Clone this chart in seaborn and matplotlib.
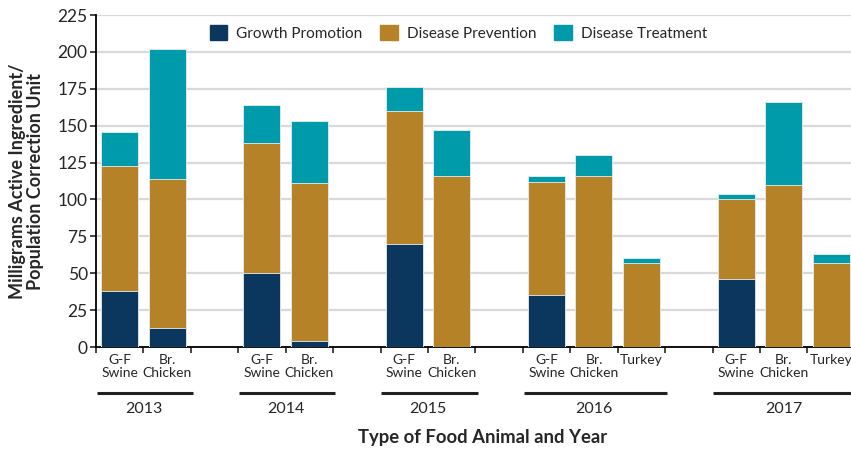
import numpy as np
import pandas as pd
import matplotlib
matplotlib.use("Agg")
import matplotlib.pyplot as plt
import seaborn as sns

# values (mg active ingredient / PCU)
slot_year = ["2013", "2013", "2014", "2014", "2015", "2015",
             "2016", "2016", "2016", "2017", "2017", "2017"]
slot_animal = ["G-F\nSwine", "Br.\nChicken", "G-F\nSwine", "Br.\nChicken",
               "G-F\nSwine", "Br.\nChicken", "G-F\nSwine", "Br.\nChicken", "Turkey",
               "G-F\nSwine", "Br.\nChicken", "Turkey"]
growth = [38, 13, 50, 4, 70, 0, 35, 0, 0, 46, 0, 0]
prevention = [85, 101, 88, 107, 90, 116, 77, 116, 57, 54, 110, 57]
treatment = [23, 88, 26, 42, 16, 31, 4, 14, 3, 4, 56, 6]

series = ["Growth Promotion", "Disease Prevention", "Disease Treatment"]
colors = ["#0b365e", "#b58228", "#009bab"]

df = pd.DataFrame({"year": slot_year, "animal": slot_animal,
                   "growth": growth, "prevention": prevention, "treatment": treatment})
df["slot"] = df["year"] + " " + df["animal"]
df["top_growth"] = df["growth"]
df["top_prev"] = df["growth"] + df["prevention"]
df["top_treat"] = df["top_prev"] + df["treatment"]

# slot order with an empty slot between years
order = []
years = list(dict.fromkeys(slot_year))
for i, y in enumerate(years):
    order += list(df.loc[df["year"] == y, "slot"])
    if i < len(years) - 1:
        order.append("gap " + y)

sns.set_style("white")
plt.rcParams["font.family"] = ["Lato", "DejaVu Sans"]

fig = plt.figure(figsize=(8.51, 4.49), dpi=100)
ax = fig.add_axes([96 / 851, 1 - 347 / 449, 1 - 96 / 851, (347 - 15) / 449])

for col, c in zip(["top_treat", "top_prev", "top_growth"], colors[::-1]):
    sns.barplot(data=df, x="slot", y=col, order=order, color=c, width=0.78,
                edgecolor="#e8eef2", linewidth=0.6, saturation=1, ax=ax, zorder=3)

ax.set_ylim(0, 225)
ax.set_xlim(-0.5, 15.42)
ax.set_yticks(np.arange(0, 226, 25))
ax.tick_params(axis="y", labelsize=12.5, length=4, width=1.2, direction="out", pad=2, left=True)
ax.set_xticks(np.arange(-0.5, 15.5, 1))
ax.set_xticklabels([])
ax.tick_params(axis="x", length=4, width=1.2, direction="out", bottom=True)
ax.yaxis.grid(True, color="#d9d9d9", linewidth=1.6, zorder=0)
ax.set_axisbelow(True)
for s in ["top", "right"]:
    ax.spines[s].set_visible(False)
for s in ["left", "bottom"]:
    ax.spines[s].set_color("black")
    ax.spines[s].set_linewidth(1.3)

ax.set_xlabel("")
ax.set_ylabel("Milligrams Active Ingredient/\nPopulation Correction Unit",
              fontsize=13, fontweight="bold", labelpad=10, linespacing=1.05)

# category and year labels under the axis
tr = ax.get_xaxis_transform()
pos = {s: i for i, s in enumerate(order)}
for _, r in df.iterrows():
    ax.text(pos[r["slot"]], -0.022, r["animal"], transform=tr, ha="center", va="top",
            fontsize=10, linespacing=1.1)
for y in years:
    idx = [pos[s] for s in df.loc[df["year"] == y, "slot"]]
    x0, x1 = min(idx) - 0.48, max(idx) + 0.55
    ax.plot([x0, x1], [-0.1386, -0.1386], transform=tr, color="#222222",
            linewidth=2.2, clip_on=False, solid_capstyle="butt")
    ax.text(np.mean(idx), -0.187, y, transform=tr, ha="center", va="center", fontsize=11.5)

fig.text(483 / 851, 1 - 437 / 449, "Type of Food Animal and Year", ha="center", va="center",
         fontsize=13.3, fontweight="bold")

handles = [plt.Rectangle((0, 0), 1, 1, color=c) for c in colors]
ax.legend(handles, series, loc="center", bbox_to_anchor=(0.48, 0.946), ncol=3,
          frameon=False, fontsize=11, handlelength=1.15, handleheight=1.15,
          columnspacing=1.15, handletextpad=0.6)

fig.savefig("out.png", dpi=100)
